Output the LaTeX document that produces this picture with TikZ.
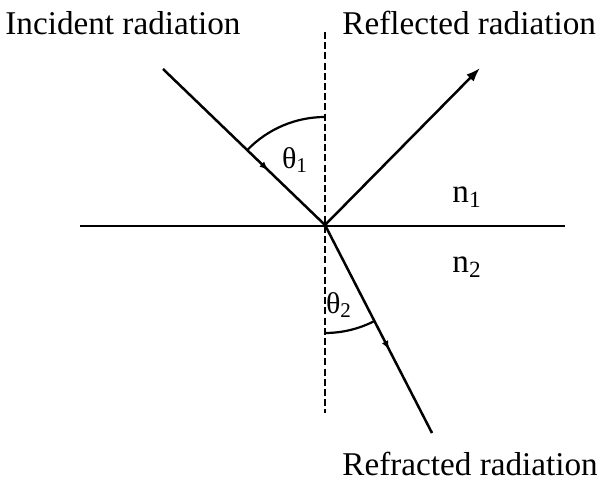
\documentclass[tikz,border=0pt]{standalone}
\usepackage{fontspec}
\setmainfont{Liberation Serif}
\usepackage{tikz}
\usetikzlibrary{arrows.meta,decorations.markings}
\tikzset{
  ray/.style={draw=black,line width=1.25pt},
  midarrow/.style={postaction={decorate},decoration={markings,
    mark=at position #1 with {\arrow{Latex[length=4.5pt,width=3.5pt]}}}},
  normal/.style={draw=black,line width=0.9pt,dash pattern=on 3.5pt off 1.6pt},
  surface/.style={draw=black,line width=1.1pt},
  anglearc/.style={draw=black,line width=1.1pt},
  lbl/.style={font=\fontsize{16.6}{20}\selectfont,inner sep=0pt},
  sym/.style={font=\fontsize{15}{18}\selectfont,inner sep=0pt},
}

\begin{document}
\begin{tikzpicture}[x=0.5pt,y=0.5pt]
\useasboundingbox (0,0) rectangle (597,481);
\coordinate (O) at (325,256);
\coordinate (src) at (163,412);
\coordinate (refl) at (480,413);
\coordinate (refr) at (432,48);
\coordinate (ntop) at (325,449);
\coordinate (nbot) at (325,68);
\coordinate (sleft) at (80,255);
\coordinate (sright) at (565,255);
% normal and surface
\draw[normal] (ntop)--(nbot);
\draw[surface] (sleft)--(sright);
% rays
\draw[ray,midarrow=0.65] (src)--(O);
\draw[ray,-{Latex[length=7pt,width=5pt]}] (O)--(refl);
\draw[ray,midarrow=0.6] (O)--(refr);
% angles
\draw[anglearc] ([shift={(90:108)}]O) arc (90:136.1:108);
\draw[anglearc] ([shift={(270:108)}]O) arc (270:297.2:108);
\node[sym] (th1) at (295,321) {θ\textsubscript{1}};
\node[sym] (th2) at (339,176) {θ\textsubscript{2}};
\node[lbl] (n1) at (467,284) {n\textsubscript{1}};
\node[lbl] (n2) at (467,214) {n\textsubscript{2}};
% labels
\node[lbl,anchor=base west] (inc) at (5,446) {Incident radiation};
\node[lbl,anchor=base west] (rfl) at (342,446) {Reflected radiation};
\node[lbl,anchor=base west] (rfr) at (342,6) {Refracted radiation};
\end{tikzpicture}
\end{document}
